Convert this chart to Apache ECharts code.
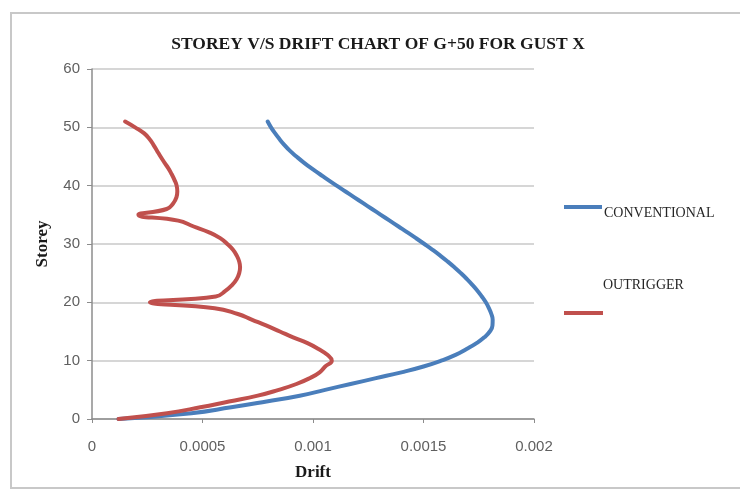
<!DOCTYPE html>
<html>
<head>
<meta charset="utf-8">
<script src="https://cdn.jsdelivr.net/npm/echarts@6/dist/echarts.min.js"></script>
<style>
  html, body { margin: 0; padding: 0; background: #ffffff; }
  #chart { width: 740px; height: 493px; }
</style>
</head>
<body>
<div id="chart"></div>
<script>
// Storey levels, ground (0) to roof (51)
const storeys = [
  0, 1, 2, 3, 4, 5, 6, 7, 8, 9,
  10, 11, 12, 13, 14, 15, 16, 17, 18, 19,
  20, 21, 22, 23, 24, 25, 26, 27, 28, 29,
  30, 31, 32, 33, 34, 35, 36, 37, 38, 39,
  40, 41, 42, 43, 44, 45, 46, 47, 48, 49,
  50, 51
];

// Storey drift, conventional structure
const conventionalDrift = [
  0.000120, 0.000450, 0.000630, 0.000790, 0.000940, 0.001055, 0.001170, 0.001285, 0.001400, 0.001500,
  0.001580, 0.001645, 0.001695, 0.001740, 0.001775, 0.001800, 0.001812, 0.001813, 0.001807, 0.001796,
  0.001782, 0.001764, 0.001744, 0.001721, 0.001696, 0.001669, 0.001640, 0.001609, 0.001576, 0.001541,
  0.001504, 0.001466, 0.001427, 0.001387, 0.001347, 0.001307, 0.001267, 0.001227, 0.001187, 0.001147,
  0.001107, 0.001068, 0.001030, 0.000992, 0.000957, 0.000925, 0.000895, 0.000870, 0.000848, 0.000828,
  0.000810, 0.000795
];

// Storey drift, structure with outriggers (belts at storeys 20 and 35)
const outriggerDrift = [
  0.000120, 0.000340, 0.000490, 0.000620, 0.000750, 0.000845, 0.000925, 0.000985, 0.001030, 0.001055,
  0.001085, 0.001065, 0.001025, 0.000975, 0.000910, 0.000850, 0.000790, 0.000725, 0.000660, 0.000555,
  0.000262, 0.000560, 0.000605, 0.000635, 0.000655, 0.000666, 0.000670, 0.000666, 0.000655, 0.000638,
  0.000612, 0.000580, 0.000530, 0.000460, 0.000390, 0.000210, 0.000338, 0.000368, 0.000382, 0.000386,
  0.000383, 0.000373, 0.000360, 0.000345, 0.000327, 0.000310, 0.000294, 0.000278, 0.000260, 0.000235,
  0.000195, 0.000150
];

const xTicks = { min: 0, max: 0.002, step: 0.0005 };
const yTicks = { min: 0, max: 60, step: 10 };

const BLUE = '#4a7ebb';
const RED = '#c0504d';
const SERIF = '"Liberation Serif", "Times New Roman", serif';
const SANS = '"Liberation Sans", Arial, sans-serif';

const pairs = (xs, ys) => xs.map((x, i) => [x, ys[i]]);

const chart = echarts.init(document.getElementById('chart'), null, { renderer: 'canvas' });

chart.setOption({
  animation: false,
  backgroundColor: '#ffffff',
  title: {
    text: 'STOREY V/S DRIFT CHART OF G+50 FOR GUST X',
    left: 378,
    top: 35,
    padding: 0,
    textAlign: 'center',
    textStyle: { fontFamily: SERIF, fontWeight: 'bold', fontSize: 17.5, color: '#1a1a1a' }
  },
  grid: {
    left: 92, right: 206, top: 69, bottom: 74,
    containLabel: false,
    outerBoundsMode: 'none'
  },
  xAxis: {
    type: 'value',
    min: xTicks.min, max: xTicks.max, interval: xTicks.step,
    name: 'Drift',
    nameLocation: 'middle',
    nameGap: 45,
    nameTextStyle: { fontFamily: SERIF, fontWeight: 'bold', fontSize: 17, color: '#1a1a1a' },
    axisLine: { show: true, lineStyle: { color: '#8c8c8c', width: 1.5 } },
    axisTick: { show: true, inside: false, length: 4, lineStyle: { color: '#8c8c8c' } },
    axisLabel: {
      margin: 20,
      fontFamily: SANS, fontSize: 15, color: '#606060',
      formatter: v => String(+v.toFixed(4))
    },
    splitLine: { show: false }
  },
  yAxis: {
    type: 'value',
    min: yTicks.min, max: yTicks.max, interval: yTicks.step,
    name: 'Storey',
    nameLocation: 'middle',
    nameRotate: 90,
    nameGap: 41,
    nameTextStyle: { fontFamily: SERIF, fontWeight: 'bold', fontSize: 17, color: '#1a1a1a' },
    axisLine: { show: true, lineStyle: { color: '#8c8c8c', width: 1.5 } },
    axisTick: { show: true, inside: false, length: 5, lineStyle: { color: '#8c8c8c' } },
    axisLabel: { margin: 12, fontFamily: SANS, fontSize: 15, color: '#606060' },
    splitLine: { show: true, lineStyle: { color: '#d6d6d6', width: 2 } }
  },
  series: [
    {
      name: 'CONVENTIONAL',
      type: 'line',
      data: pairs(conventionalDrift, storeys),
      showSymbol: false,
      smooth: 0.5,
      lineStyle: { color: BLUE, width: 4, cap: 'round', join: 'round' },
      itemStyle: { color: BLUE },
      z: 2
    },
    {
      name: 'OUTRIGGER',
      type: 'line',
      data: pairs(outriggerDrift, storeys),
      showSymbol: false,
      smooth: 0.5,
      lineStyle: { color: RED, width: 4, cap: 'round', join: 'round' },
      itemStyle: { color: RED },
      z: 3
    }
  ],
  graphic: [
    // chart area frame
    {
      type: 'rect', z: -10, silent: true,
      shape: { x: 11, y: 13, width: 760, height: 475 },
      style: { fill: 'none', stroke: '#c8c8c8', lineWidth: 2 }
    },
    // legend: CONVENTIONAL
    {
      type: 'line', silent: true,
      shape: { x1: 564, y1: 207, x2: 602, y2: 207 },
      style: { stroke: BLUE, lineWidth: 4 }
    },
    {
      type: 'text', silent: true, x: 604, y: 213,
      style: { text: 'CONVENTIONAL', fontFamily: SERIF, fontSize: 14, fill: '#262626', verticalAlign: 'middle' }
    },
    // legend: OUTRIGGER
    {
      type: 'text', silent: true, x: 603, y: 285,
      style: { text: 'OUTRIGGER', fontFamily: SERIF, fontSize: 14, fill: '#262626', verticalAlign: 'middle' }
    },
    {
      type: 'line', silent: true,
      shape: { x1: 564, y1: 313, x2: 603, y2: 313 },
      style: { stroke: RED, lineWidth: 4 }
    }
  ]
});
</script>
</body>
</html>
